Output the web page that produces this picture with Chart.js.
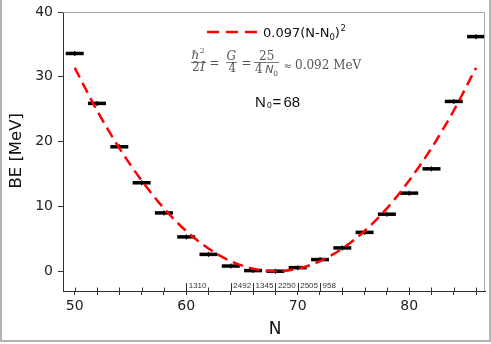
<!DOCTYPE html>
<html>
<head>
<meta charset="utf-8">
<script src="https://cdn.jsdelivr.net/npm/chart.js@4.4.1/dist/chart.umd.min.js"></script>
<style>
  html, body { margin: 0; padding: 0; background: #fff; }
  #wrap { width: 491px; height: 344px; }
</style>
</head>
<body>
<div id="wrap"><canvas id="be" width="491" height="344"></canvas></div>
<script>
// even neutron numbers and binding energy relative to the minimum (MeV)
var nValues = [50, 52, 54, 56, 58, 60, 62, 64, 66, 68, 70, 72, 74, 76, 78, 80, 82, 84, 86];
var beValues = [33.6, 25.9, 19.2, 13.65, 9.0, 5.3, 2.6, 0.8, 0.1, 0.0, 0.55, 1.8, 3.6, 6.0, 8.8, 12.05, 15.8, 26.2, 36.2];
// dashed fit 0.097(N-N0)^2 as read at the same N
var fitValues = [31.4, 24.8, 19.0, 14.0, 9.7, 6.2, 3.5, 1.55, 0.4, 0.0, 0.4, 1.55, 3.5, 6.2, 9.7, 14.0, 19.0, 24.8, 31.4];
// small counts printed above the N axis
var countN = [60, 64, 66, 68, 70, 72];
var countLabels = ['1310', '2492', '1345', '2250', '2505', '958'];
var xTicks = [50, 60, 70, 80];
var yTicks = [0, 10, 20, 30, 40];

function pts(ys) {
    return nValues.map(function(n, i) { return {x: n, y: ys[i]}; });
}

function put(ctx, s, x, y, font, color) {
    ctx.font = font;
    ctx.fillStyle = color;
    ctx.fillText(s, x, y);
    return x + ctx.measureText(s).width;
}

var extras = {
    id: 'extras',
    afterDraw: function(chart) {
        var ctx = chart.ctx, a = chart.chartArea;
        var xs = chart.scales.x;
        ctx.save();
        ctx.textAlign = 'left';
        ctx.textBaseline = 'alphabetic';

        // top and right frame
        ctx.strokeStyle = '#a8a8a8';
        ctx.lineWidth = 1;
        ctx.beginPath();
        ctx.moveTo(a.left, a.top + 0.5);
        ctx.lineTo(a.right - 0.5, a.top + 0.5);
        ctx.lineTo(a.right - 0.5, a.bottom);
        ctx.stroke();

        // inner part of the x ticks
        ctx.strokeStyle = '#333';
        ctx.beginPath();
        for (var v = 50; v <= 86; v += 2) {
            var px = Math.round(xs.getPixelForValue(v)) + 0.5;
            ctx.moveTo(px, a.bottom);
            ctx.lineTo(px, a.bottom - 3.5);
        }
        ctx.stroke();

        // counts
        ctx.beginPath();
        countN.forEach(function(n) {
            var px = Math.round(xs.getPixelForValue(n)) + 0.5;
            ctx.moveTo(px, a.bottom);
            ctx.lineTo(px, a.bottom - 8);
        });
        ctx.stroke();
        countN.forEach(function(n, i) {
            put(ctx, countLabels[i], xs.getPixelForValue(n) + 2.5, a.bottom - 3.5, '8px "Liberation Sans"', '#333');
        });

        // legend
        ctx.strokeStyle = '#ff0000';
        ctx.lineWidth = 2.5;
        ctx.setLineDash([12, 7]);
        ctx.beginPath();
        ctx.moveTo(207, 32);
        ctx.lineTo(257, 32);
        ctx.stroke();
        ctx.setLineDash([]);
        var lx = put(ctx, '0.097(N-N', 263, 37, '13px "DejaVu Sans"', '#111');
        lx = put(ctx, '0', lx, 40, '8.5px "DejaVu Sans"', '#111');
        lx = put(ctx, ')', lx, 37, '13px "DejaVu Sans"', '#111');
        put(ctx, '2', lx + 0.5, 31, '8.5px "DejaVu Sans"', '#111');

        // formula
        var g = '#555', sf = '12px "DejaVu Serif"';
        ctx.strokeStyle = g;
        ctx.lineWidth = 0.8;
        ctx.beginPath();
        ctx.moveTo(191, 62.5); ctx.lineTo(206, 62.5);
        ctx.moveTo(226, 62.5); ctx.lineTo(237, 62.5);
        ctx.moveTo(254, 62.5); ctx.lineTo(279, 62.5);
        ctx.stroke();
        var fx = put(ctx, '\u210F', 191.5, 58.5, sf, g);
        put(ctx, '2', fx + 0.5, 53, '8px "DejaVu Serif"', g);
        fx = put(ctx, '2', 192, 71, sf, g);
        put(ctx, 'I', fx + 0.5, 71, 'italic 12px "DejaVu Serif"', g);
        put(ctx, '=', 209.5, 67, sf, g);
        put(ctx, 'G', 226.5, 59.5, 'italic 12px "DejaVu Serif"', g);
        put(ctx, '4', 228.5, 71.5, sf, g);
        put(ctx, '=', 241.5, 67, sf, g);
        put(ctx, '25', 259, 59.5, sf, g);
        fx = put(ctx, '4', 255, 73, sf, g);
        fx = put(ctx, 'N', fx + 2.5, 73, 'italic 11px "DejaVu Sans"', g);
        put(ctx, '0', fx, 76, '7.5px "DejaVu Sans"', g);
        put(ctx, '\u2248', 283.5, 68.5, '10px "DejaVu Serif"', g);
        put(ctx, '0.092 MeV', 295, 68.5, sf, g);

        // N0 = 68
        var sn = '15px "Liberation Sans"';
        put(ctx, 'N', 255, 106.5, sn, '#111');
        put(ctx, '0', 267, 108, '8.5px "Liberation Sans"', '#111');
        put(ctx, '=', 272.5, 106.5, sn, '#111');
        put(ctx, '68', 283.5, 106.5, sn, '#111');

        // axis titles
        ctx.textAlign = 'center';
        put(ctx, 'N', 275, 333.5, '17px "DejaVu Sans"', '#111');
        ctx.translate(20.7, 150.8);
        ctx.rotate(-Math.PI / 2);
        put(ctx, 'BE [MeV]', 0, 0, '16.5px "DejaVu Sans"', '#111');
        ctx.restore();

        // figure border
        ctx.save();
        ctx.strokeStyle = '#b4b4b4';
        ctx.lineWidth = 2;
        ctx.beginPath();
        ctx.moveTo(1, 0);
        ctx.lineTo(1, 341);
        ctx.lineTo(490, 341);
        ctx.lineTo(490, 0);
        ctx.stroke();
        ctx.restore();
    }
};

var tickFont = {family: 'DejaVu Sans', size: 14};

new Chart(document.getElementById('be'), {
    type: 'scatter',
    data: {
        datasets: [{
            label: 'fit',
            data: pts(fitValues),
            showLine: true,
            borderColor: '#ff0000',
            backgroundColor: '#ff0000',
            borderWidth: 2.5,
            borderDash: [11, 6],
            pointRadius: 0,
            fill: false,
            cubicInterpolationMode: 'monotone',
            order: 0
        }, {
            label: 'BE',
            data: pts(beValues),
            pointStyle: 'line',
            pointRadius: 9,
            pointHoverRadius: 9,
            borderWidth: 3.5,
            borderColor: '#000',
            backgroundColor: '#000',
            clip: false,
            order: 2
        }, {
            label: 'err',
            data: pts(beValues),
            pointStyle: 'line',
            rotation: 90,
            pointRadius: 2.5,
            borderWidth: 1.2,
            borderColor: '#000',
            backgroundColor: '#000',
            clip: false,
            order: 1
        }]
    },
    options: {
        responsive: false,
        animation: false,
        devicePixelRatio: 1,
        layout: {autoPadding: false, padding: {top: 12, right: 6, left: 0, bottom: 0}},
        plugins: {legend: {display: false}, tooltip: {enabled: false}},
        scales: {
            x: {
                type: 'linear',
                min: 48.95,
                max: 86.8,
                afterFit: function(s) { s.height = 53; s.paddingLeft = 0; s.paddingRight = 0; },
                ticks: {
                    stepSize: 2,
                    includeBounds: false,
                    autoSkip: false,
                    maxRotation: 0,
                    padding: 3,
                    color: '#222',
                    font: tickFont,
                    callback: function(v) { return xTicks.indexOf(v) >= 0 ? String(v) : ''; }
                },
                grid: {drawOnChartArea: false, tickLength: 4, color: '#333'},
                border: {color: '#333', width: 1}
            },
            y: {
                min: -3.05,
                max: 40,
                afterFit: function(s) { s.width = 63; s.paddingTop = 0; s.paddingBottom = 0; },
                ticks: {
                    stepSize: 10,
                    includeBounds: false,
                    padding: 5,
                    color: '#222',
                    font: tickFont,
                    callback: function(v) { return yTicks.indexOf(v) >= 0 ? String(v) : ''; }
                },
                grid: {drawOnChartArea: false, tickLength: 5, color: '#333'},
                border: {color: '#333', width: 1}
            }
        }
    },
    plugins: [extras]
});
</script>
</body>
</html>
